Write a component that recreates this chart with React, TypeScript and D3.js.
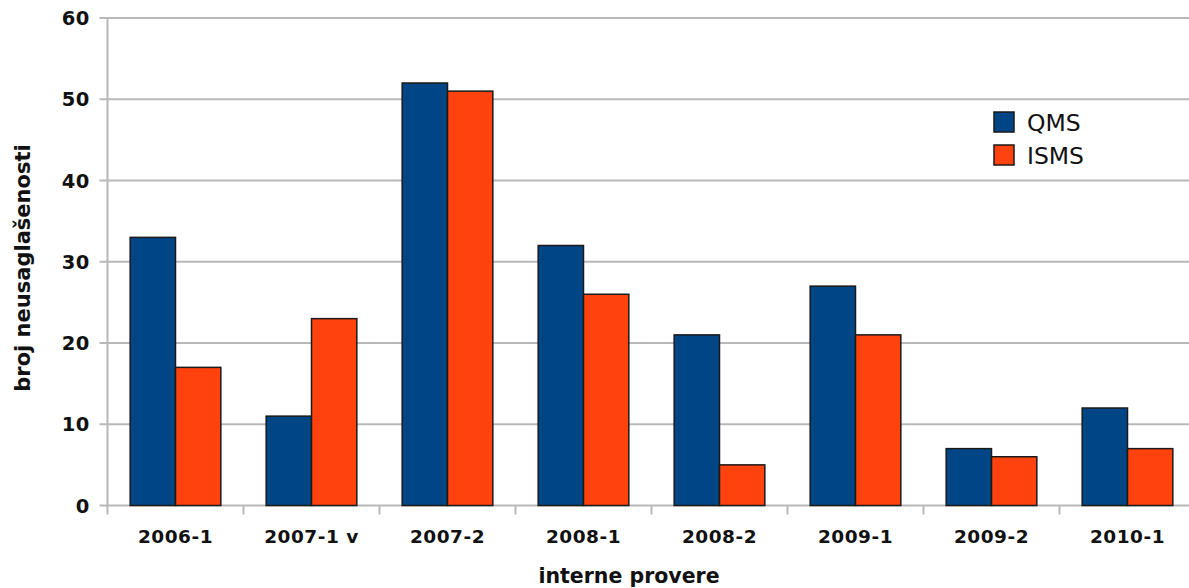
import React from 'react';
import * as d3 from 'd3';

const categories = ['2006-1', '2007-1 v', '2007-2', '2008-1', '2008-2', '2009-1', '2009-2', '2010-1'];
const seriesNames = ['QMS', 'ISMS'];
const qmsValues = [33, 11, 52, 32, 21, 27, 7, 12];
const ismsValues = [17, 23, 51, 26, 5, 21, 6, 7];
const yTicks = [0, 10, 20, 30, 40, 50, 60];
const colors = ['#004586', '#ff420e'];

const W = 1189;
const H = 588;
const FONT = '"DejaVu Sans", sans-serif';

export default function App() {
  const left = 107.5;
  const x0 = d3.scaleBand<string>().domain(categories).range([left, left + 136 * categories.length]).padding(0);
  const x1 = d3.scaleBand<string>().domain(seriesNames).range([0, x0.bandwidth()]).paddingInner(0).paddingOuter(0.5);
  const y = d3.scaleLinear().domain([0, 60]).range([505.5, 18]);

  const rows = categories.map((c, i) => ({ cat: c, vals: [qmsValues[i], ismsValues[i]] }));
  const axisColor = '#b8b8b8';
  const bandEdges = [...categories.map(c => x0(c)!), x0(categories[categories.length - 1])! + x0.bandwidth()];

  return (
    <svg width={W} height={H} style={{ position: 'absolute', left: 0, top: 0, background: '#fff' }}>
      {/* grid lines and y ticks */}
      {yTicks.map(t => (
        <g key={t}>
          <line x1={left} x2={W} y1={y(t)} y2={y(t)} stroke={axisColor} strokeWidth={2} />
          <line x1={left - 8} x2={left} y1={y(t)} y2={y(t)} stroke={axisColor} strokeWidth={2} />
          <text x={90} y={y(t)} dy="0.37em" textAnchor="end" fontFamily={FONT} fontWeight="bold" fontSize={19.5} letterSpacing={0.6} fill="#111">
            {t}
          </text>
        </g>
      ))}
      {/* y axis line */}
      <line x1={left} x2={left} y1={y(60)} y2={y(0) + 1} stroke={axisColor} strokeWidth={2} />
      {/* x ticks */}
      {bandEdges.map((e, i) => (
        <line key={i} x1={e} x2={e} y1={y(0)} y2={y(0) + 9} stroke={axisColor} strokeWidth={2} />
      ))}
      {/* bars */}
      {rows.map(r => (
        <g key={r.cat} transform={`translate(${x0(r.cat)},0)`}>
          {r.vals.map((v, j) => (
            <rect
              key={j}
              x={x1(seriesNames[j])}
              y={y(v)}
              width={x1.bandwidth()}
              height={y(0) - y(v)}
              fill={colors[j]}
              stroke="#1a1a1a"
              strokeWidth={1.5}
            />
          ))}
          <text
            x={x0.bandwidth() / 2}
            y={543}
            textAnchor="middle"
            fontFamily={FONT}
            fontWeight="bold"
            fontSize={18.5}
            letterSpacing={0.5}
            fill="#111"
          >
            {r.cat}
          </text>
        </g>
      ))}
      {/* axis titles */}
      <text x={629} y={583} textAnchor="middle" fontFamily={FONT} fontWeight="bold" fontSize={20.5} fill="#111">
        interne provere
      </text>
      <text
        transform={`translate(30,268) rotate(-90)`}
        textAnchor="middle"
        fontFamily={FONT}
        fontWeight="bold"
        fontSize={21}
        fill="#111"
      >
        broj neusaglašenosti
      </text>
      {/* legend */}
      {seriesNames.map((s, i) => (
        <g key={s} transform={`translate(994,${112 + i * 33})`}>
          <rect x={0} y={0} width={20} height={20} fill={colors[i]} stroke="#1a1a1a" strokeWidth={1.5} />
          <text x={33} y={18.5} fontFamily={FONT} fontSize={23.5} fill="#111">
            {s}
          </text>
        </g>
      ))}
    </svg>
  );
}
